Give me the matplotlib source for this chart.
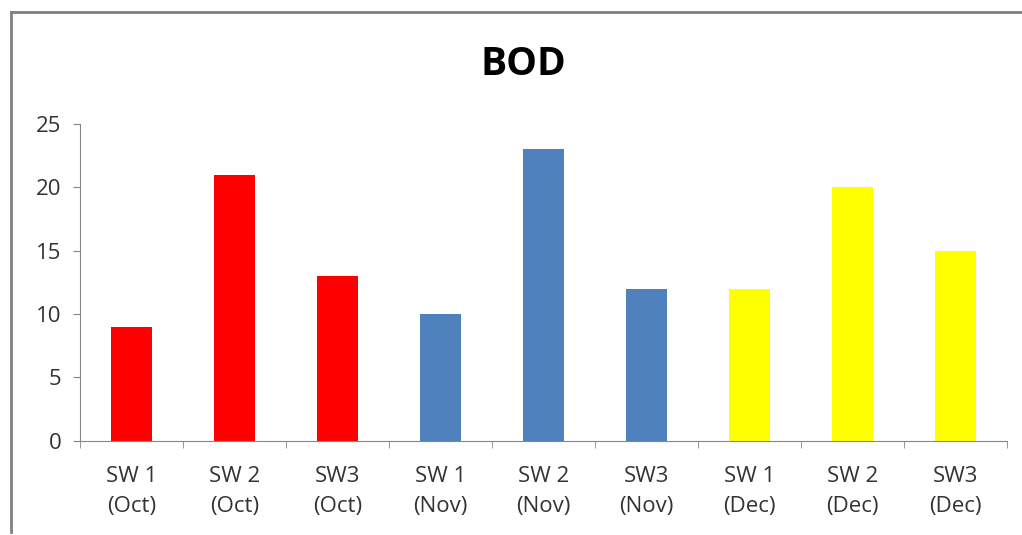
import matplotlib.pyplot as plt
from matplotlib.lines import Line2D

labels = ['SW 1\n(Oct)', 'SW 2\n(Oct)', 'SW3\n(Oct)',
          'SW 1\n(Nov)', 'SW 2\n(Nov)', 'SW3\n(Nov)',
          'SW 1\n(Dec)', 'SW 2\n(Dec)', 'SW3\n(Dec)']
bod = [9, 21, 13, 10, 23, 12, 12, 20, 15]
colors = ['#FF0000'] * 3 + ['#4F81BD'] * 3 + ['#FFFF00'] * 3

plt.rcParams['font.family'] = ['Open Sans', 'DejaVu Sans']

fig = plt.figure(figsize=(10.22, 5.35), dpi=100)
ax = fig.add_axes([0.078, 0.176, 0.907, 0.592])

x = list(range(len(bod)))
ax.bar(x, bod, width=0.4, color=colors)

ax.set_xlim(-0.5, len(bod) - 0.5)
ax.set_ylim(0, 25)
ax.set_yticks([0, 5, 10, 15, 20, 25])
ax.set_xticks(x)
ax.set_xticklabels(labels, fontsize=16, color='#333333', linespacing=1.6)
ax.tick_params(axis='x', length=0, pad=18)
ax.set_xticks([i - 0.5 for i in range(len(bod) + 1)], minor=True)
ax.tick_params(axis='x', which='minor', length=5, color='#868686')
ax.tick_params(axis='y', labelsize=16, labelcolor='#333333', length=5, color='#868686', pad=8)

for side in ['top', 'right']:
    ax.spines[side].set_visible(False)
for side in ['left', 'bottom']:
    ax.spines[side].set_color('#868686')

fig.text(0.512, 0.88, 'BOD', fontsize=28, fontweight='bold', ha='center', va='center')

# outer frame (left and top edges)
fig.add_artist(Line2D([0.011, 0.011], [0.005, 0.978], color='#808080', lw=2))
fig.add_artist(Line2D([0.011, 1.0], [0.978, 0.978], color='#808080', lw=2))

fig.savefig('out.png', dpi=100)
